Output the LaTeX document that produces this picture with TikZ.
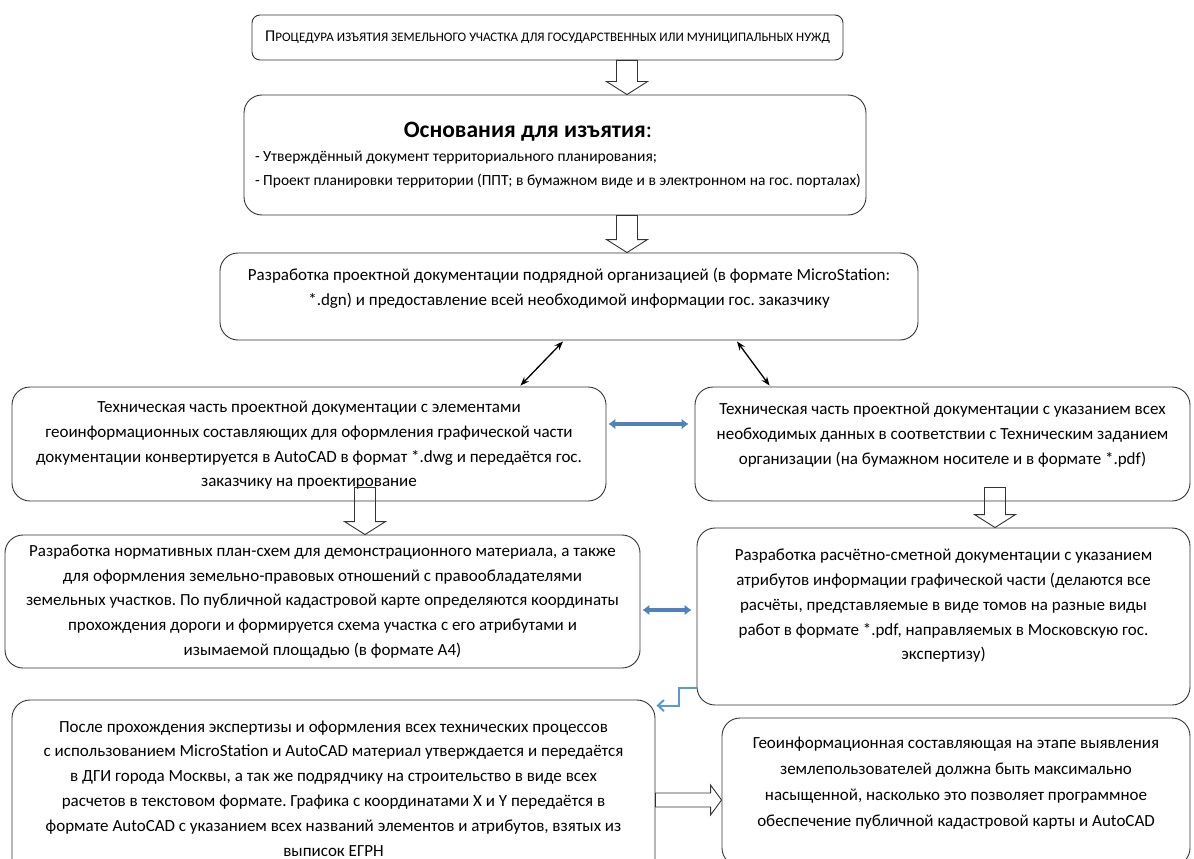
\documentclass[tikz,border=0pt]{standalone}
\usepackage{fontspec}
\setmainfont{Carlito}
\usepackage{xcolor}
\usetikzlibrary{arrows.meta, calc}
\frenchspacing

\definecolor{linegray}{HTML}{333333}
\definecolor{arrblue}{HTML}{4F81BD}
\definecolor{elbowblue}{HTML}{5B9BD5}

% normal word spacing inside the boxes
\newcommand{\plainspaces}{\spaceskip=0pt\relax\xspaceskip=0pt\relax}

% hollow block arrows (from -> to)
\newcommand{\hollowdown}[2]{%
  \draw[hollow] let \p1=(#1), \p2=(#2) in
    (\x1-10.5pt,\y1) -- (\x1+10.5pt,\y1) -- (\x1+10.5pt,\y2+13pt)
    -- (\x1+20.5pt,\y2+13pt) -- (\x1,\y2) -- (\x1-20.5pt,\y2+13pt)
    -- (\x1-10.5pt,\y2+13pt) -- cycle;}
\newcommand{\hollowright}[2]{%
  \draw[hollow] let \p1=(#1), \p2=(#2) in
    (\x1,\y1+7pt) -- (\x1,\y1-7pt) -- (\x2-11pt,\y1-7pt)
    -- (\x2-11pt,\y1-15pt) -- (\x2,\y1) -- (\x2-11pt,\y1+15pt)
    -- (\x2-11pt,\y1+7pt) -- cycle;}

\begin{document}
\begin{tikzpicture}[x=1pt, y=-1pt, >=Stealth,
        box/.style={rectangle, draw=linegray, line width=0.9pt, rounded corners=18pt, align=center, inner sep=0pt, text=black, font=\fontsize{17}{24.8}\selectfont},
        titlebox/.style={box, rounded corners=8pt},
        hollow/.style={draw=linegray, line width=0.9pt},
        blackarr/.style={<->, line width=1.3pt, black},
        bluearr/.style={{Latex[length=7pt, width=11pt]}-{Latex[length=7pt, width=11pt]}, line width=3.5pt, arrblue},
        elbow/.style={-{Straight Barb[length=6pt, width=11pt]}, line width=2pt, elbowblue}]

    \useasboundingbox (0,0) rectangle (1194,859);

    \node (n1) [titlebox, minimum width=591, minimum height=45] at (547.5,37.5)
        {{\fontsize{16.5}{20}\selectfont П}{\fontsize{13}{20}\selectfont РОЦЕДУРА ИЗЪЯТИЯ ЗЕМЕЛЬНОГО УЧАСТКА ДЛЯ ГОСУДАРСТВЕННЫХ ИЛИ МУНИЦИПАЛЬНЫХ НУЖД}};
    \node (n2) [box, minimum width=622, minimum height=120, text width=600, align=left, font=\fontsize{15.5}{24}\selectfont] at (555,155)
        {\plainspaces\makebox[\linewidth]{\fontsize{23.5}{26}\selectfont\bfseries Основания для изъятия{\mdseries:}\hspace*{54pt}}\\
         - Утверждённый документ территориального планирования;\\
         \mbox{- Проект планировки территории (ППТ; в бумажном виде и в электронном на гос. порталах)}};
    \node (n3) [box, minimum width=698, minimum height=87, text depth=20pt] at (569,296.5)
        {\plainspaces Разработка проектной документации подрядной организацией (в формате MicroStation:\\
         *.dgn) и предоставление всей необходимой информации гос. заказчику};
    \node (n4) [box, minimum width=594, minimum height=114, text depth=0pt] at (309,444)
        {\plainspaces Техническая часть проектной документации с элементами\\
         геоинформационных составляющих для оформления графической части\\
         документации конвертируется в AutoCAD в формат *.dwg и передаётся гос.\\
         заказчику на проектирование};
    \node (n6) [box, minimum width=495, minimum height=114, text depth=21pt] at (942.5,444)
        {\plainspaces Техническая часть проектной документации с указанием всех\\
         необходимых данных в соответствии с Техническим заданием\\
         организации (на бумажном носителе и в формате *.pdf)};
    \node (n5) [box, minimum width=635, minimum height=133] at (322.5,601.5)
        {\plainspaces Разработка нормативных план-схем для демонстрационного материала, а также\\
         для оформления земельно-правовых отношений с правообладателями\\
         земельных участков. По публичной кадастровой карте определяются координаты\\
         прохождения дороги и формируется схема участка с его атрибутами и\\
         изымаемой площадью (в формате А4)};
    \node (n7) [box, minimum width=493, minimum height=177, text depth=24pt] at (943.5,616.5)
        {\plainspaces Разработка расчётно-сметной документации с указанием\\
         атрибутов информации графической части (делаются все\\
         расчёты, представляемые в виде томов на разные виды\\
         работ в формате *.pdf, направляемых в Московскую гос.\\
         экспертизу)};
    \node (n8) [box, minimum width=643, minimum height=177] at (333.5,788.5)
        {\plainspaces После прохождения экспертизы и оформления всех технических процессов\\
         с использованием MicroStation и AutoCAD материал утверждается и передаётся\\
         в ДГИ города Москвы, а так же подрядчику на строительство в виде всех\\
         расчетов в текстовом формате. Графика с координатами X и Y передаётся в\\
         формате AutoCAD с указанием всех названий элементов и атрибутов, взятых из\\
         выписок ЕГРН};
    \node (n9) [box, minimum width=468, minimum height=148, font=\fontsize{17}{26}\selectfont, text depth=20pt] at (956,792)
        {\plainspaces Геоинформационная составляющая на этапе выявления\\
         землепользователей должна быть максимально\\
         насыщенной, насколько это позволяет программное\\
         обеспечение публичной кадастровой карты и AutoCAD};

    % hollow arrows between the steps
    \hollowdown{$(n1.south)+(79.5,0)$}{n2.north}
    \hollowdown{$(n2.south)+(72,0)$}{n3.north}
    \hollowdown{$(n4.south)+(56,-14)$}{n5.north}
    \hollowdown{$(n6.south)+(52.5,-14)$}{n7.north}
    \hollowright{$(n8.east)+(0,11.5)$}{n9.west}

    % links from the project documentation
    \draw[blackarr] ($(n3.south)+(-6,1)$) -- ($(n4.north east)+(-86,-1)$);
    \draw[blackarr] ($(n3.south)+(168,1)$) -- ($(n6.north west)+(75,-1)$);

    % exchange between the parts
    \draw[bluearr] ($(n4.east)+(2,-20)$) -- ($(n6.west)+(-6,-20)$);
    \draw[bluearr] ($(n5.east)+(2,8.5)$) -- ($(n7.west)+(-5,-6.5)$);
    \draw[elbow] ($(n7.west)+(0,71.5)$) -- ++(-18,0) |- ($(n8.north east)+(1,6)$);
\end{tikzpicture}
\end{document}
